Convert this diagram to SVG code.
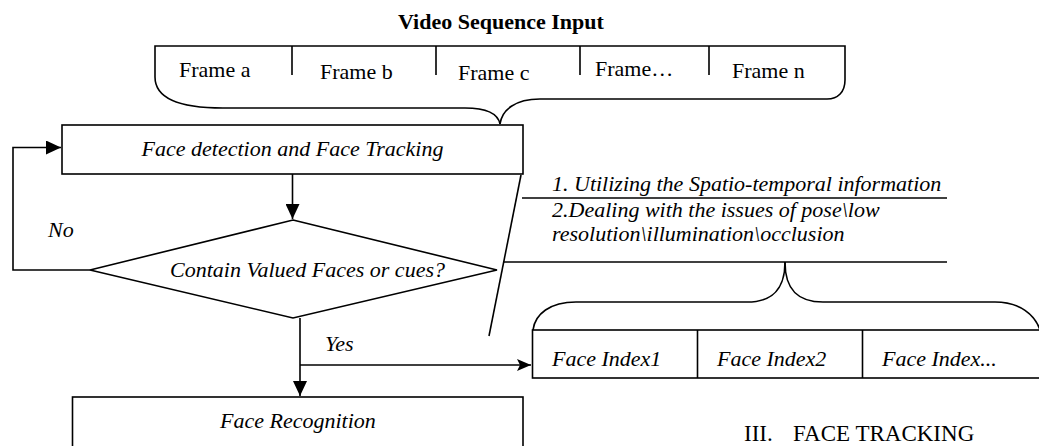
<svg xmlns="http://www.w3.org/2000/svg" width="1039" height="446" viewBox="0 0 1039 446">
<style>
.ln{fill:none;stroke:#000;stroke-width:1.6}
.bx{fill:#fff;stroke:#000;stroke-width:1.6}
.t{font-family:"Liberation Serif","Times New Roman",serif;font-size:22px;fill:#000}
.i{font-style:italic}
.b{font-weight:bold}
.cap{font-size:23px}
</style>
<defs>
<marker id="ah" markerUnits="userSpaceOnUse" markerWidth="16" markerHeight="14" refX="15" refY="7" orient="auto">
<path d="M0,0 L15,7 L0,14 Z" fill="#000"/>
</marker>
<marker id="ah2" markerUnits="userSpaceOnUse" markerWidth="16" markerHeight="14" refX="14" refY="7" orient="auto">
<path d="M0,1 L14,7 L0,13 L3,7 Z" fill="#000"/>
</marker>
</defs>
<rect width="1039" height="446" fill="#fff"/>

<g id="video-input">
<text class="t b" x="398" y="29">Video Sequence Input</text>
<path class="ln" d="M155,77 V46 H845 V80"/>
<path class="ln" d="M292,46 V75 M436,46 V75 M580,46 V75 M709,46 V75"/>
<path class="ln" d="M155,77 C155,96 175,108 223,108 H465 C486,108 498,114 500,124"/>
<path class="ln" d="M500,124 C502,110 515,99 540,99 H827 C838,99 845,92 845,80"/>
<text class="t" x="179" y="77">Frame a</text>
<text class="t" x="320" y="79">Frame b</text>
<text class="t" x="458" y="80">Frame c</text>
<text class="t" x="595" y="76">Frame…</text>
<text class="t" x="732" y="78">Frame n</text>
</g>

<g id="face-detection">
<rect class="bx" x="62" y="125" width="461" height="49"/>
<text class="t i" x="292.5" y="156" text-anchor="middle">Face detection and Face Tracking</text>
</g>

<g id="decision">
<polygon class="bx" points="293,220 497,270 293,318 90,270"/>
<text class="t i" x="170" y="277">Contain Valued Faces or cues?</text>
</g>

<g id="face-recognition">
<rect class="bx" x="72.5" y="397" width="450.5" height="60"/>
<text class="t i" x="220" y="428">Face Recognition</text>
</g>

<g id="notes">
<text class="t i" x="552" y="191">1. Utilizing the Spatio-temporal information</text>
<text class="t i" x="552" y="217">2.Dealing with the issues of pose\low</text>
<text class="t i" x="552" y="241">resolution\illumination\occlusion</text>
<path class="ln" d="M522,198 H947"/>
<path class="ln" d="M503,262 H947"/>
<path class="ln" d="M521,175 L489,336"/>
</g>

<g id="face-index">
<path class="ln" d="M785,262 C785,290 772,302 747,302 H576 C550,302 535,314 533,330"/>
<path class="ln" d="M785,262 C785,290 798,302 823,302 H995 C1020,302 1035,315 1040,330"/>
<rect class="bx" x="532.5" y="330" width="520" height="48"/>
<path class="ln" d="M697.5,330 V378 M862.5,330 V378"/>
<text class="t i" x="552" y="366">Face Index1</text>
<text class="t i" x="717" y="366">Face Index2</text>
<text class="t i" x="882" y="366">Face Index...</text>
</g>

<g id="connectors">
<path class="ln" d="M292.5,174 V219" marker-end="url(#ah)"/>
<path class="ln" d="M90,270 H13 V147.5 H61" marker-end="url(#ah)"/>
<path class="ln" d="M300,318 V396" marker-end="url(#ah)"/>
<path class="ln" d="M300,365 H531" marker-end="url(#ah2)"/>
<text class="t i" x="48" y="237">No</text>
<text class="t i" x="325" y="351">Yes</text>
</g>

<g id="caption">
<text class="t cap" x="744" y="441">III.</text>
<text class="t cap" x="793" y="441">FACE TRACKING</text>
</g>
</svg>
